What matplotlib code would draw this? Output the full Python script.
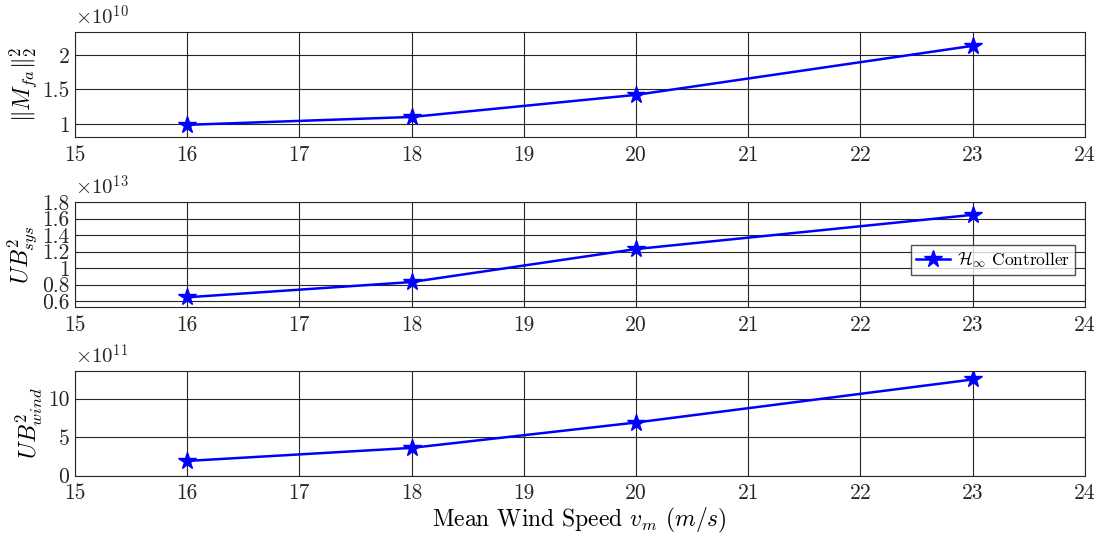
import matplotlib
matplotlib.use("Agg")
import matplotlib.pyplot as plt

plt.rcParams['font.family'] = 'serif'
plt.rcParams['font.serif'] = ['cmr10', 'DejaVu Serif']
plt.rcParams['mathtext.fontset'] = 'cm'
plt.rcParams['axes.unicode_minus'] = False

wind_speed = [16, 18, 20, 23]
mfa_vals = [0.986, 1.10, 1.42, 2.13]      # x 1e10
ubsys_vals = [0.645, 0.83, 1.23, 1.645]   # x 1e13
ubwind_vals = [1.9, 3.6, 6.9, 12.5]       # x 1e11

x_ticks = [15, 16, 17, 18, 19, 20, 21, 22, 23, 24]

panels = [
    dict(vals=mfa_vals, exp=10, ylabel=r'$\|M_{fa}\|_2^2$', ylim=(0.81, 2.33),
         yticks=[1, 1.5, 2], yticklabels=['1', '1.5', '2'], bottom=0.7468),
    dict(vals=ubsys_vals, exp=13, ylabel=r'$UB^2_{sys}$', ylim=(0.527, 1.8),
         yticks=[0.6, 0.8, 1.0, 1.2, 1.4, 1.6, 1.8],
         yticklabels=['0.6', '0.8', '1', '1.2', '1.4', '1.6', '1.8'], bottom=0.4325),
    dict(vals=ubwind_vals, exp=11, ylabel=r'$UB^2_{wind}$', ylim=(0, 13.66),
         yticks=[0, 5, 10], yticklabels=['0', '5', '10'], bottom=0.121),
]

fig = plt.figure(figsize=(11.06, 5.41), dpi=100)
axes = []
for p in panels:
    ax = fig.add_axes([0.0678, p['bottom'], 0.913, 0.194])
    line, = ax.plot(wind_speed, p['vals'], color='#0000ff', lw=1.8, marker='*',
                    markersize=13, label=r'$\mathcal{H}_\infty$ Controller')
    ax.set_xlim(15, 24)
    ax.set_xticks(x_ticks)
    ax.set_xticklabels([str(t) for t in x_ticks])
    ax.set_ylim(*p['ylim'])
    ax.set_yticks(p['yticks'])
    ax.set_yticklabels(p['yticklabels'])
    ax.grid(True, color='#262626', lw=0.8)
    ax.set_axisbelow(True)
    for s in ax.spines.values():
        s.set_color('#262626')
        s.set_linewidth(0.8)
    ax.tick_params(axis='x', labelsize=15.5, length=0, pad=6, colors='#262626')
    ax.tick_params(axis='y', labelsize=15.5, length=0, pad=4, colors='#262626')
    ax.set_ylabel(p['ylabel'], fontsize=17, labelpad=2)
    ax.text(0.0, 1.03, r'$\times 10^{%d}$' % p['exp'], transform=ax.transAxes,
            fontsize=15, ha='left', va='bottom', color='#262626')
    axes.append(ax)

axes[1].legend(loc='center right', bbox_to_anchor=(0.990, 0.448), fontsize=12.5,
               frameon=True, fancybox=False, edgecolor='#262626',
               handlelength=2.0, borderpad=0.25, handletextpad=0.4,
               borderaxespad=0.0)
axes[2].set_xlabel(r'Mean Wind Speed $v_m$ $(m/s)$', fontsize=17, labelpad=2)

fig.savefig('out.png', dpi=100, facecolor='white')
